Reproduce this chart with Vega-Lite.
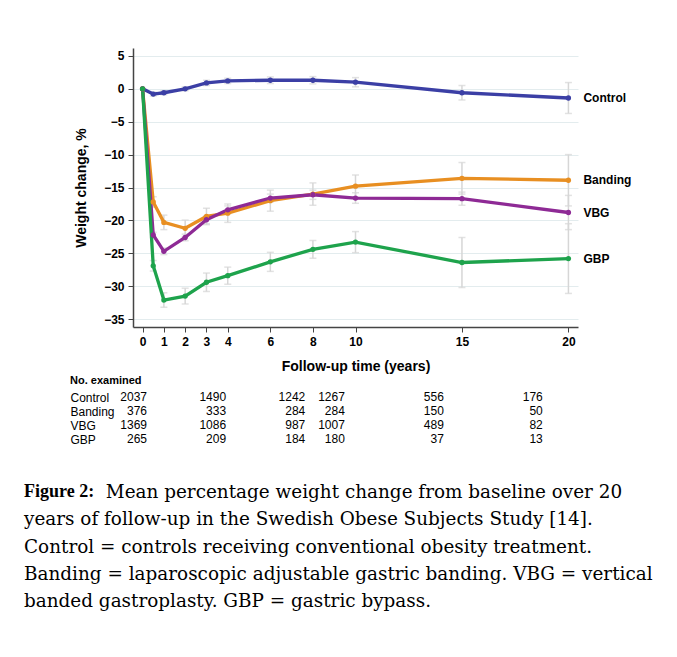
{
  "$schema": "https://vega.github.io/schema/vega-lite/v6.json",
  "padding": {"left": 24, "top": 48, "right": 5, "bottom": 5},
  "background": "white",
  "config": {
    "view": {"stroke": null},
    "font": "Liberation Sans",
    "axisY": {"labelOverlap": false, "labelFontSize": 12, "labelFontWeight": "bold", "labelColor": "black", "labelPadding": 4, "tickSize": 5, "tickColor": "#444", "domainColor": "#444", "domainWidth": 1.5, "titleFontSize": 14, "titleFontWeight": "bold", "titleColor": "black", "titlePadding": 15, "gridColor": "#e3ecee", "gridWidth": 1},
    "axisX": {"labelOverlap": false, "labelFontSize": 12, "labelFontWeight": "bold", "labelColor": "black", "labelPadding": 4, "tickSize": 5, "tickColor": "#444", "domainColor": "#444", "domainWidth": 1.5, "titleFontSize": 14, "titleFontWeight": "bold", "titleColor": "black", "titlePadding": 12}
  },
  "title": {
    "text": "Figure 2:",
    "subtitle": [
      "\u200b\u00a0\u00a0\u00a0\u00a0\u00a0\u00a0\u00a0\u00a0\u00a0\u00a0\u00a0\u00a0\u00a0\u00a0Mean percentage weight change from baseline over 20",
      "years of follow-up in the Swedish Obese Subjects Study [14].",
      "Control = controls receiving conventional obesity treatment.",
      "Banding = laparoscopic adjustable gastric banding. VBG = vertical",
      "banded gastroplasty. GBP = gastric bypass."
    ],
    "orient": "bottom",
    "anchor": "start",
    "frame": "bounds",
    "align": "left",
    "dx": -46,
    "offset": 37,
    "font": "Liberation Serif",
    "fontSize": 18,
    "fontWeight": "bold",
    "color": "black",
    "subtitleFont": "DejaVu Serif",
    "subtitleFontSize": 18.4,
    "subtitleColor": "black",
    "subtitleLineHeight": 27.3,
    "subtitlePadding": -18
  },
  "datasets": {
    "series": [
      {"group": "Control", "t": 0, "mean": 0, "lo": 0, "hi": 0},
      {"group": "Control", "t": 0.5, "mean": -0.8, "lo": -1.1, "hi": -0.5},
      {"group": "Control", "t": 1, "mean": -0.6, "lo": -0.9, "hi": -0.3},
      {"group": "Control", "t": 2, "mean": 0.0, "lo": -0.3, "hi": 0.3},
      {"group": "Control", "t": 3, "mean": 0.9, "lo": 0.5, "hi": 1.3},
      {"group": "Control", "t": 4, "mean": 1.2, "lo": 0.8, "hi": 1.6},
      {"group": "Control", "t": 6, "mean": 1.3, "lo": 0.8, "hi": 1.8},
      {"group": "Control", "t": 8, "mean": 1.3, "lo": 0.75, "hi": 1.85},
      {"group": "Control", "t": 10, "mean": 1.0, "lo": 0.3, "hi": 1.7},
      {"group": "Control", "t": 15, "mean": -0.6, "lo": -1.7, "hi": 0.5},
      {"group": "Control", "t": 20, "mean": -1.4, "lo": -3.75, "hi": 0.95},
      {"group": "Banding", "t": 0, "mean": 0, "lo": 0, "hi": 0},
      {"group": "Banding", "t": 0.5, "mean": -17.2, "lo": -18.0, "hi": -16.4},
      {"group": "Banding", "t": 1, "mean": -20.3, "lo": -21.4, "hi": -19.2},
      {"group": "Banding", "t": 2, "mean": -21.2, "lo": -22.45, "hi": -19.95},
      {"group": "Banding", "t": 3, "mean": -19.4, "lo": -20.65, "hi": -18.15},
      {"group": "Banding", "t": 4, "mean": -18.9, "lo": -20.3, "hi": -17.5},
      {"group": "Banding", "t": 6, "mean": -17.0, "lo": -18.6, "hi": -15.4},
      {"group": "Banding", "t": 8, "mean": -16.0, "lo": -17.7, "hi": -14.3},
      {"group": "Banding", "t": 10, "mean": -14.8, "lo": -16.5, "hi": -13.1},
      {"group": "Banding", "t": 15, "mean": -13.6, "lo": -16.0, "hi": -11.2},
      {"group": "Banding", "t": 20, "mean": -13.9, "lo": -17.8, "hi": -10.0},
      {"group": "VBG", "t": 0, "mean": 0, "lo": 0, "hi": 0},
      {"group": "VBG", "t": 0.5, "mean": -22.2, "lo": -22.6, "hi": -21.8},
      {"group": "VBG", "t": 1, "mean": -24.7, "lo": -25.2, "hi": -24.2},
      {"group": "VBG", "t": 2, "mean": -22.6, "lo": -23.1, "hi": -22.1},
      {"group": "VBG", "t": 3, "mean": -19.9, "lo": -20.5, "hi": -19.3},
      {"group": "VBG", "t": 4, "mean": -18.4, "lo": -19.0, "hi": -17.8},
      {"group": "VBG", "t": 6, "mean": -16.6, "lo": -17.2, "hi": -16.0},
      {"group": "VBG", "t": 8, "mean": -16.1, "lo": -16.8, "hi": -15.4},
      {"group": "VBG", "t": 10, "mean": -16.6, "lo": -17.4, "hi": -15.8},
      {"group": "VBG", "t": 15, "mean": -16.7, "lo": -17.7, "hi": -15.7},
      {"group": "VBG", "t": 20, "mean": -18.8, "lo": -21.4, "hi": -16.2},
      {"group": "GBP", "t": 0, "mean": 0, "lo": 0, "hi": 0},
      {"group": "GBP", "t": 0.5, "mean": -26.9, "lo": -27.7, "hi": -26.1},
      {"group": "GBP", "t": 1, "mean": -32.1, "lo": -33.2, "hi": -31.0},
      {"group": "GBP", "t": 2, "mean": -31.5, "lo": -32.7, "hi": -30.3},
      {"group": "GBP", "t": 3, "mean": -29.4, "lo": -30.8, "hi": -28.0},
      {"group": "GBP", "t": 4, "mean": -28.4, "lo": -29.7, "hi": -27.1},
      {"group": "GBP", "t": 6, "mean": -26.3, "lo": -27.75, "hi": -24.85},
      {"group": "GBP", "t": 8, "mean": -24.4, "lo": -25.75, "hi": -23.05},
      {"group": "GBP", "t": 10, "mean": -23.3, "lo": -24.9, "hi": -21.7},
      {"group": "GBP", "t": 15, "mean": -26.4, "lo": -30.2, "hi": -22.6},
      {"group": "GBP", "t": 20, "mean": -25.8, "lo": -31.1, "hi": -20.5}
    ],
    "counts": [
      {"group": "Control", "t": 0, "n": 2037},
      {"group": "Control", "t": 4, "n": 1490},
      {"group": "Control", "t": 8, "n": 1242},
      {"group": "Control", "t": 10, "n": 1267},
      {"group": "Control", "t": 15, "n": 556},
      {"group": "Control", "t": 20, "n": 176},
      {"group": "Banding", "t": 0, "n": 376},
      {"group": "Banding", "t": 4, "n": 333},
      {"group": "Banding", "t": 8, "n": 284},
      {"group": "Banding", "t": 10, "n": 284},
      {"group": "Banding", "t": 15, "n": 150},
      {"group": "Banding", "t": 20, "n": 50},
      {"group": "VBG", "t": 0, "n": 1369},
      {"group": "VBG", "t": 4, "n": 1086},
      {"group": "VBG", "t": 8, "n": 987},
      {"group": "VBG", "t": 10, "n": 1007},
      {"group": "VBG", "t": 15, "n": 489},
      {"group": "VBG", "t": 20, "n": 82},
      {"group": "GBP", "t": 0, "n": 265},
      {"group": "GBP", "t": 4, "n": 209},
      {"group": "GBP", "t": 8, "n": 184},
      {"group": "GBP", "t": 10, "n": 180},
      {"group": "GBP", "t": 15, "n": 37},
      {"group": "GBP", "t": 20, "n": 13}
    ]
  },
  "spacing": 2,
  "resolve": {"scale": {"x": "independent", "y": "independent"}},
  "vconcat": [
    {
      "width": 445,
      "height": 279,
      "data": {"name": "series"},
      "layer": [
        {
          "transform": [{"filter": "datum.t > 0"}],
          "mark": {"type": "errorbar", "color": "#d6d6d6", "thickness": 1.5, "ticks": {"size": 7, "thickness": 1.5, "color": "#d6d6d6"}},
          "encoding": {
            "x": {"field": "t", "type": "quantitative", "title": "Follow-up time (years)", "scale": {"domain": [-0.45, 20.45], "nice": false, "zero": false}, "axis": {"values": [0, 1, 2, 3, 4, 6, 8, 10, 15, 20], "grid": false}},
            "y": {"field": "lo", "type": "quantitative", "title": "Weight change, %", "scale": {"domain": [-36.2, 6.2], "nice": false, "zero": false}, "axis": {"values": [5, 0, -5, -10, -15, -20, -25, -30, -35], "grid": true}},
            "y2": {"field": "hi"}
          }
        },
        {
          "mark": {"type": "line", "strokeWidth": 3.3},
          "encoding": {
            "x": {"field": "t", "type": "quantitative", "title": "Follow-up time (years)", "axis": {"values": [0, 1, 2, 3, 4, 6, 8, 10, 15, 20], "grid": false}},
            "y": {"field": "mean", "type": "quantitative", "title": "Weight change, %", "axis": {"values": [5, 0, -5, -10, -15, -20, -25, -30, -35], "grid": true}},
            "color": {
              "field": "group", "type": "nominal",
              "scale": {"domain": ["Control", "Banding", "VBG", "GBP"], "range": ["#3b3fa5", "#e88f22", "#8e2a95", "#1ea34c"]},
              "legend": null
            }
          }
        },
        {
          "mark": {"type": "point", "filled": true, "size": 28, "opacity": 1},
          "encoding": {
            "x": {"field": "t", "type": "quantitative", "title": "Follow-up time (years)", "axis": {"values": [0, 1, 2, 3, 4, 6, 8, 10, 15, 20], "grid": false}},
            "y": {"field": "mean", "type": "quantitative", "title": "Weight change, %", "axis": {"values": [5, 0, -5, -10, -15, -20, -25, -30, -35], "grid": true}},
            "color": {"field": "group", "type": "nominal", "legend": null}
          }
        },
        {
          "transform": [{"filter": "datum.t == 20"}],
          "mark": {"type": "text", "align": "left", "baseline": "middle", "dx": 15, "fontSize": 12, "fontWeight": "bold", "font": "Liberation Sans", "color": "black"},
          "encoding": {
            "x": {"field": "t", "type": "quantitative", "title": "Follow-up time (years)", "axis": {"values": [0, 1, 2, 3, 4, 6, 8, 10, 15, 20], "grid": false}},
            "y": {"field": "mean", "type": "quantitative", "title": "Weight change, %", "axis": {"values": [5, 0, -5, -10, -15, -20, -25, -30, -35], "grid": true}},
            "text": {"field": "group"}
          }
        }
      ]
    },
    {
      "width": 445,
      "height": {"step": 14},
      "data": {"name": "counts"},
      "title": {"text": "No. examined", "anchor": "start", "frame": "bounds", "fontSize": 11, "fontWeight": "bold", "font": "Liberation Sans", "color": "black", "offset": 4},
      "mark": {"type": "text", "align": "right", "baseline": "middle", "fontSize": 12, "font": "Liberation Sans", "color": "black"},
      "encoding": {
        "x": {"field": "t", "type": "quantitative", "scale": {"domain": [-0.707, 21.78], "nice": false, "zero": false}, "axis": null},
        "y": {
          "field": "group", "type": "nominal", "sort": ["Control", "Banding", "VBG", "GBP"],
          "axis": {"title": null, "domain": false, "ticks": false, "tickSize": 0, "labelAlign": "left", "labelPadding": 63, "labelFontSize": 12, "labelFontWeight": "normal", "labelColor": "black", "labelFont": "Liberation Sans", "grid": false}
        },
        "text": {"field": "n", "type": "quantitative", "format": "d"}
      }
    }
  ]
}
